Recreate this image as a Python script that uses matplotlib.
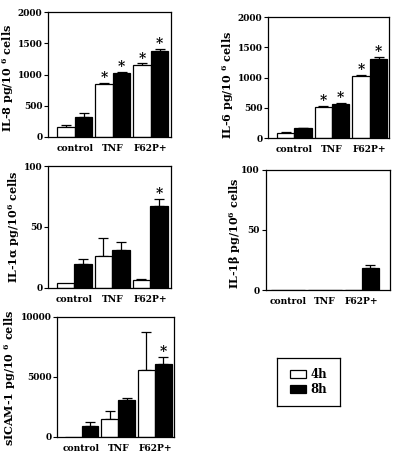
import numpy as np
import matplotlib
matplotlib.use("Agg")
import matplotlib.pyplot as plt

plt.rcParams['font.family'] = ['DejaVu Serif']
plt.rcParams['font.weight'] = 'bold'
plt.rcParams['mathtext.fontset'] = 'dejavuserif'

groups = ['control', 'TNF', 'F62P+']
series_names = ['4h', '8h']

# IL-8
il8_4h = [166, 850, 1160]
il8_4h_err = [25, 10, 20]
il8_8h = [321, 1027, 1385]
il8_8h_err = [60, 20, 30]

# IL-6
il6_4h = [88, 508, 1022]
il6_4h_err = [8, 28, 17]
il6_8h = [166, 558, 1304]
il6_8h_err = [5, 16, 44]

# IL-1 alpha
il1a_4h = [4, 26, 6]
il1a_4h_err = [0, 15, 1]
il1a_8h = [19.5, 30.6, 67.2]
il1a_8h_err = [4, 7, 6]

# IL-1 beta
il1b_4h = [0, 0, 0]
il1b_4h_err = [0, 0, 0]
il1b_8h = [0, 0, 18]
il1b_8h_err = [0, 0, 3]

# sICAM-1
icam_4h = [0, 1470, 5550]
icam_4h_err = [0, 670, 3170]
icam_8h = [920, 3050, 6100]
icam_8h_err = [280, 170, 530]

# significance marks (True = star above that bar)
il8_stars_4h = [False, True, True]
il8_stars_8h = [False, True, True]
il6_stars_4h = [False, True, True]
il6_stars_8h = [False, True, True]
il1a_stars_4h = [False, False, False]
il1a_stars_8h = [False, False, True]
no_stars = [False, False, False]
icam_stars_8h = [False, False, True]

W, H = 402, 457
fig = plt.figure(figsize=(W / 100, H / 100), dpi=100)


def px_axes(left, top, right, bottom):
    return fig.add_axes([left / W, 1 - bottom / H, (right - left) / W, (bottom - top) / H])


def draw_panel(ax, v4, e4, v8, e8, s4, s8, yticks, ylabel, xlim, label_xy):
    x = np.arange(len(groups))
    w = 0.46
    bars = []
    for off, vals, errs, stars, col in [(-w / 2, v4, e4, s4, 'white'),
                                         (w / 2, v8, e8, s8, 'black')]:
        b = ax.bar(x + off, vals, w, color=col, edgecolor='black', linewidth=0.9, zorder=2)
        bars.append(b)
        for xi, v, e, st in zip(x + off, vals, errs, stars):
            if e > 0:
                ax.errorbar(xi, v, yerr=[[0], [e]], fmt='none', ecolor='black',
                            elinewidth=0.9, capsize=3.5, capthick=0.9, zorder=1)
            if st:
                ax.annotate('*', (xi, v + e), xytext=(0, -1.5), textcoords='offset points',
                            ha='center', va='bottom', fontsize=10, fontweight='bold')
    ax.set_xlim(*xlim)
    ax.set_ylim(yticks[0], yticks[-1])
    ax.set_yticks(yticks)
    ax.set_xticks(x)
    ax.set_xticklabels(groups)
    ax.tick_params(axis='y', direction='out', length=3, width=0.8, labelsize=6.5, pad=1.2)
    ax.tick_params(axis='x', length=0, labelsize=6.6, pad=5)
    for sp in ax.spines.values():
        sp.set_linewidth(0.9)
    ax.set_ylabel(ylabel, fontsize=8, fontweight='bold')
    ax.yaxis.set_label_coords(*label_xy)
    return bars


ax1 = px_axes(48.3, 12.3, 171, 137)
bars = draw_panel(ax1, il8_4h, il8_4h_err, il8_8h, il8_8h_err, il8_stars_4h, il8_stars_8h,
                  [0, 500, 1000, 1500, 2000], r'IL-8 pg/10 $^{\mathbf{6}}$ cells',
                  (-0.70, 2.53), (-0.265, 0.47))

ax2 = px_axes(268.3, 17.3, 389.5, 138)
draw_panel(ax2, il6_4h, il6_4h_err, il6_8h, il6_8h_err, il6_stars_4h, il6_stars_8h,
           [0, 500, 1000, 1500, 2000], r'IL-6 pg/10 $^{\mathbf{6}}$ cells',
           (-0.69, 2.52), (-0.27, 0.44))

ax3 = px_axes(48.5, 166, 171, 287.7)
draw_panel(ax3, il1a_4h, il1a_4h_err, il1a_8h, il1a_8h_err, il1a_stars_4h, il1a_stars_8h,
           [0, 50, 100], r'IL-1α pg/10$^{\mathbf{6}}$ cells',
           (-0.68, 2.55), (-0.22, 0.50))

ax4 = px_axes(265.7, 170, 390, 290)
draw_panel(ax4, il1b_4h, il1b_4h_err, il1b_8h, il1b_8h_err, no_stars, no_stars,
           [0, 50, 100], r'IL-1β pg/10$^{\mathbf{6}}$ cells',
           (-0.6, 2.76), (-0.18, 0.47))

ax5 = px_axes(57.3, 316.7, 174, 436.7)
draw_panel(ax5, icam_4h, icam_4h_err, icam_8h, icam_8h_err, no_stars, icam_stars_8h,
           [0, 5000, 10000], r'sICAM-1 pg/10 $^{\mathbf{6}}$ cells',
           (-0.66, 2.52), (-0.335, 0.49))

# legend box
lax = px_axes(277, 358, 340, 406)
lax.set_xticks([])
lax.set_yticks([])
for sp in lax.spines.values():
    sp.set_linewidth(0.9)
lax.legend([bars[0][0], bars[1][0]], series_names, loc='center', frameon=False,
           prop={'size': 8.5, 'weight': 'bold'}, handlelength=1.4, handleheight=0.7,
           labelspacing=0.15, handletextpad=0.4, borderpad=0)

fig.savefig('out.png', dpi=100)
